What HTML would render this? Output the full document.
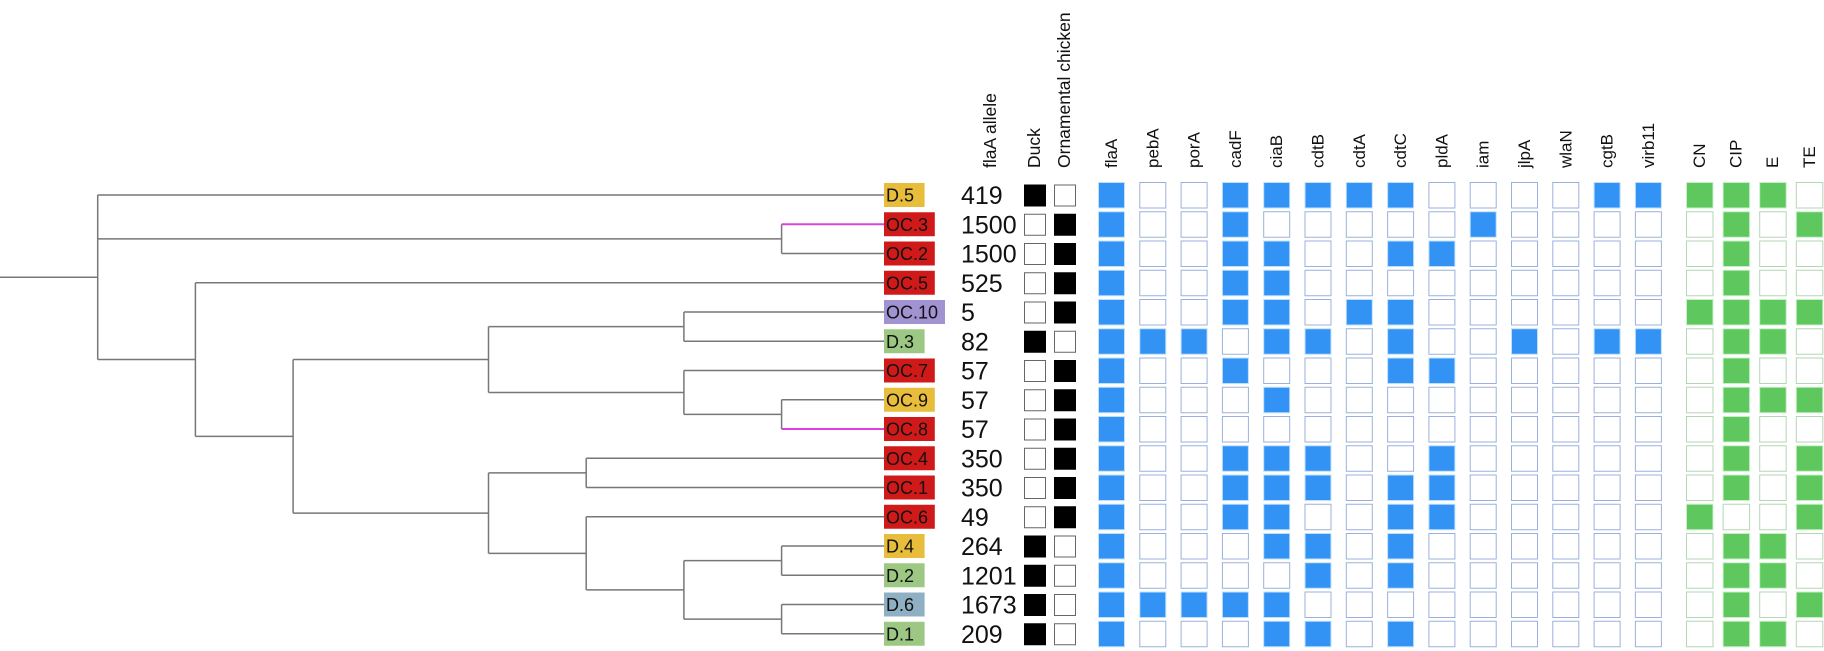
<!DOCTYPE html>
<html><head><meta charset="utf-8"><style>
html,body{margin:0;padding:0;background:#fff;width:1824px;height:651px;overflow:hidden}
svg{display:block}
text{font-family:"Liberation Sans",Arial,sans-serif}
</style></head><body>
<svg id="fig" width="1824" height="651" viewBox="0 0 1824 651" xmlns="http://www.w3.org/2000/svg">
<g id="tree"></g>
<g id="labels"></g>
<g id="alleles"></g>
<g id="hosts"></g>
<g id="genes"></g>
<g id="amr"></g>
<g id="headers"></g>
</svg>
<script>
const isolates = ["D.5","OC.3","OC.2","OC.5","OC.10","D.3","OC.7","OC.9","OC.8","OC.4","OC.1","OC.6","D.4","D.2","D.6","D.1"];
const labelColors = ["#e8bd3c","#d01a1a","#d01a1a","#d01a1a","#a193d2","#9cc884","#d01a1a","#e8bd3c","#d01a1a","#d01a1a","#d01a1a","#d01a1a","#e8bd3c","#9cc884","#8fb0c2","#9cc884"];
const alleles = ["419","1500","1500","525","5","82","57","57","57","350","350","49","264","1201","1673","209"];
const duck = [1,0,0,0,0,1,0,0,0,0,0,0,1,1,1,1];
const chicken = [0,1,1,1,1,0,1,1,1,1,1,1,0,0,0,0];
const geneNames = ["flaA","pebA","porA","cadF","ciaB","cdtB","cdtA","cdtC","pldA","iam","jlpA","wlaN","cgtB","virb11"];
const genePresentRows = [
 [0,1,2,3,4,5,6,7,8,9,10,11,12,13,14,15],
 [5,14],
 [5,14],
 [0,1,2,3,4,6,9,10,11,14],
 [0,2,3,4,5,7,9,10,11,12,14,15],
 [0,5,9,10,12,13,15],
 [0,4],
 [0,2,4,5,6,10,11,12,13,15],
 [2,6,9,10,11],
 [1],
 [5],
 [],
 [0,5],
 [0,5]
];
const amrNames = ["CN","CIP","E","TE"];
const amrPresentRows = [
 [0,4,11],
 [0,1,2,3,4,5,6,7,8,9,10,12,13,14,15],
 [0,4,5,7,12,13,15],
 [1,4,7,9,10,11,14]
];
const tree = {d:1, c:[0, {d:8, c:[1,2]}, {d:2, c:[3, {d:3, c:[
  {d:5, c:[{d:7, c:[4,5]}, {d:7, c:[6, {d:8, c:[7,8]}]}]},
  {d:5, c:[{d:6, c:[9,10]}, {d:6, c:[11, {d:7, c:[{d:8, c:[12,13]}, {d:8, c:[14,15]}]}]}]}
]}]}]};
const magentaLeaves = [1,8];

const NS="http://www.w3.org/2000/svg";
function mk(tag, attrs, parent){const e=document.createElementNS(NS,tag);for(const k in attrs)e.setAttribute(k,attrs[k]);parent.appendChild(e);return e;}
const rowTop = i => 182 + i*29.25;
const rowY = i => rowTop(i) + 13;
const depthX = d => d*97.7;
const tipX = 884;

const gT=document.getElementById('tree');
function drawNode(n, px){
  if(typeof n==='number'){
    const y=rowY(n);
    const l=mk('line',{x1:px,y1:y,x2:tipX,y2:y,stroke:magentaLeaves.includes(n)?'#e040e0':'#777','stroke-width':magentaLeaves.includes(n)?2:1.5},gT);
    
    
    return y;
  }
  const x=depthX(n.d);
  const ys=n.c.map(c=>drawNode(c,x));
  const y=(Math.min(...ys)+Math.max(...ys))/2;
  const v=mk('line',{x1:x,y1:Math.min(...ys),x2:x,y2:Math.max(...ys),stroke:'#777','stroke-width':1.5},gT);
  
  
  if(px!==null){
    const h=mk('line',{x1:px,y1:y,x2:x,y2:y,stroke:'#777','stroke-width':1.5},gT);
    
    
  }
  return y;
}
const rootY=drawNode(tree,0);
const rl=mk('line',{x1:0,y1:rootY,x2:depthX(tree.d),y2:rootY,stroke:'#777','stroke-width':1.5},gT);



const gL=document.getElementById('labels'), gA=document.getElementById('alleles'), gH=document.getElementById('hosts');
isolates.forEach((name,i)=>{
  const w = 10 + name.length*10.2;
  const r=mk('rect',{x:tipX,y:rowTop(i)+1,width:w,height:24,fill:labelColors[i]},gL);
  
  
  const t=mk('text',{x:tipX+2,y:rowY(i)+6.5,'font-size':18,fill:'#111'},gL);
  t.textContent=name;
  
  
  const a=mk('text',{x:961,y:rowY(i)+9,'font-size':25,fill:'#111'},gA);
  a.textContent=alleles[i];
  
  
  const d=mk('rect',{x:1024.5,y:rowTop(i)+3,width:21,height:21,fill:duck[i]?'#000':'#fff',stroke:duck[i]?'#000':'#666','stroke-width':1},gH);
  
  
  const c=mk('rect',{x:1054.5,y:rowTop(i)+3,width:21,height:21,fill:chicken[i]?'#000':'#fff',stroke:chicken[i]?'#000':'#666','stroke-width':1},gH);
  
  
});

const gG=document.getElementById('genes'), gR=document.getElementById('amr'), gHd=document.getElementById('headers');
const geneX = j => 1098 + j*41.3;
const amrX = j => 1686 + j*36.6;
geneNames.forEach((g,j)=>{
  for(let i=0;i<isolates.length;i++){
    const on=genePresentRows[j].includes(i);
    const r=mk('rect',{x:geneX(j)+0.5,y:rowTop(i)+0.5,width:26,height:25.5,fill:on?'#3393f5':'#fff',stroke:on?'#bfe0ff':'#9bb0dc','stroke-width':1},gG);
    
    
  }
  const t=mk('text',{transform:`translate(${geneX(j)+19},168) rotate(-90)`,'font-size':17,fill:'#111'},gHd);
  t.textContent=g;
  
  
});
amrNames.forEach((g,j)=>{
  for(let i=0;i<isolates.length;i++){
    const on=amrPresentRows[j].includes(i);
    const r=mk('rect',{x:amrX(j)+0.5,y:rowTop(i)+0.5,width:26.5,height:25.5,fill:on?'#5ec75e':'#fff',stroke:on?'#c8f0c8':'#b5d6b5','stroke-width':1},gR);
    
    
  }
  const t=mk('text',{transform:`translate(${amrX(j)+19},168) rotate(-90)`,'font-size':17,fill:'#111'},gHd);
  t.textContent=g;
  
  
});
[["flaA allele",996],["Duck",1040],["Ornamental chicken",1070]].forEach(([s,x])=>{
  const t=mk('text',{transform:`translate(${x},168) rotate(-90)`,'font-size':17.5,fill:'#111'},gHd);
  t.textContent=s;
  
  
});
</script>
</body></html>
